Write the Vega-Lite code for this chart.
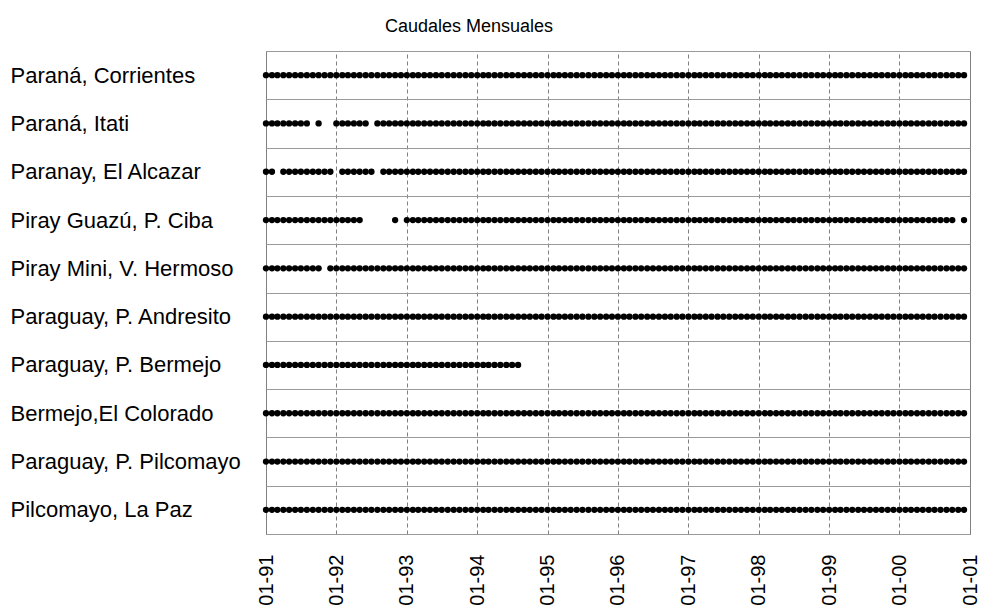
{
"$schema":"https://vega.github.io/schema/vega-lite/v6.json",
"width":704,"height":483,
"autosize":{"type":"none"},
"padding":{"left":266,"top":51,"right":12,"bottom":81},
"background":"white",
"title":{"text":"Caudales Mensuales","anchor":"middle","dx":-149,"offset":4,"font":"Liberation Sans","fontSize":18,"fontWeight":"normal","color":"black"},
"datasets":{
"corrientes":[{"fecha":"1991-01"},{"fecha":"1991-02"},{"fecha":"1991-03"},{"fecha":"1991-04"},{"fecha":"1991-05"},{"fecha":"1991-06"},{"fecha":"1991-07"},{"fecha":"1991-08"},{"fecha":"1991-09"},{"fecha":"1991-10"},{"fecha":"1991-11"},{"fecha":"1991-12"},{"fecha":"1992-01"},{"fecha":"1992-02"},{"fecha":"1992-03"},{"fecha":"1992-04"},{"fecha":"1992-05"},{"fecha":"1992-06"},{"fecha":"1992-07"},{"fecha":"1992-08"},{"fecha":"1992-09"},{"fecha":"1992-10"},{"fecha":"1992-11"},{"fecha":"1992-12"},{"fecha":"1993-01"},{"fecha":"1993-02"},{"fecha":"1993-03"},{"fecha":"1993-04"},{"fecha":"1993-05"},{"fecha":"1993-06"},{"fecha":"1993-07"},{"fecha":"1993-08"},{"fecha":"1993-09"},{"fecha":"1993-10"},{"fecha":"1993-11"},{"fecha":"1993-12"},{"fecha":"1994-01"},{"fecha":"1994-02"},{"fecha":"1994-03"},{"fecha":"1994-04"},{"fecha":"1994-05"},{"fecha":"1994-06"},{"fecha":"1994-07"},{"fecha":"1994-08"},{"fecha":"1994-09"},{"fecha":"1994-10"},{"fecha":"1994-11"},{"fecha":"1994-12"},{"fecha":"1995-01"},{"fecha":"1995-02"},{"fecha":"1995-03"},{"fecha":"1995-04"},{"fecha":"1995-05"},{"fecha":"1995-06"},{"fecha":"1995-07"},{"fecha":"1995-08"},{"fecha":"1995-09"},{"fecha":"1995-10"},{"fecha":"1995-11"},{"fecha":"1995-12"},{"fecha":"1996-01"},{"fecha":"1996-02"},{"fecha":"1996-03"},{"fecha":"1996-04"},{"fecha":"1996-05"},{"fecha":"1996-06"},{"fecha":"1996-07"},{"fecha":"1996-08"},{"fecha":"1996-09"},{"fecha":"1996-10"},{"fecha":"1996-11"},{"fecha":"1996-12"},{"fecha":"1997-01"},{"fecha":"1997-02"},{"fecha":"1997-03"},{"fecha":"1997-04"},{"fecha":"1997-05"},{"fecha":"1997-06"},{"fecha":"1997-07"},{"fecha":"1997-08"},{"fecha":"1997-09"},{"fecha":"1997-10"},{"fecha":"1997-11"},{"fecha":"1997-12"},{"fecha":"1998-01"},{"fecha":"1998-02"},{"fecha":"1998-03"},{"fecha":"1998-04"},{"fecha":"1998-05"},{"fecha":"1998-06"},{"fecha":"1998-07"},{"fecha":"1998-08"},{"fecha":"1998-09"},{"fecha":"1998-10"},{"fecha":"1998-11"},{"fecha":"1998-12"},{"fecha":"1999-01"},{"fecha":"1999-02"},{"fecha":"1999-03"},{"fecha":"1999-04"},{"fecha":"1999-05"},{"fecha":"1999-06"},{"fecha":"1999-07"},{"fecha":"1999-08"},{"fecha":"1999-09"},{"fecha":"1999-10"},{"fecha":"1999-11"},{"fecha":"1999-12"},{"fecha":"2000-01"},{"fecha":"2000-02"},{"fecha":"2000-03"},{"fecha":"2000-04"},{"fecha":"2000-05"},{"fecha":"2000-06"},{"fecha":"2000-07"},{"fecha":"2000-08"},{"fecha":"2000-09"},{"fecha":"2000-10"},{"fecha":"2000-11"},{"fecha":"2000-12"}],
"itati":[{"fecha":"1991-01"},{"fecha":"1991-02"},{"fecha":"1991-03"},{"fecha":"1991-04"},{"fecha":"1991-05"},{"fecha":"1991-06"},{"fecha":"1991-07"},{"fecha":"1991-08"},{"fecha":"1991-10"},{"fecha":"1992-01"},{"fecha":"1992-02"},{"fecha":"1992-03"},{"fecha":"1992-04"},{"fecha":"1992-05"},{"fecha":"1992-06"},{"fecha":"1992-08"},{"fecha":"1992-09"},{"fecha":"1992-10"},{"fecha":"1992-11"},{"fecha":"1992-12"},{"fecha":"1993-01"},{"fecha":"1993-02"},{"fecha":"1993-03"},{"fecha":"1993-04"},{"fecha":"1993-05"},{"fecha":"1993-06"},{"fecha":"1993-07"},{"fecha":"1993-08"},{"fecha":"1993-09"},{"fecha":"1993-10"},{"fecha":"1993-11"},{"fecha":"1993-12"},{"fecha":"1994-01"},{"fecha":"1994-02"},{"fecha":"1994-03"},{"fecha":"1994-04"},{"fecha":"1994-05"},{"fecha":"1994-06"},{"fecha":"1994-07"},{"fecha":"1994-08"},{"fecha":"1994-09"},{"fecha":"1994-10"},{"fecha":"1994-11"},{"fecha":"1994-12"},{"fecha":"1995-01"},{"fecha":"1995-02"},{"fecha":"1995-03"},{"fecha":"1995-04"},{"fecha":"1995-05"},{"fecha":"1995-06"},{"fecha":"1995-07"},{"fecha":"1995-08"},{"fecha":"1995-09"},{"fecha":"1995-10"},{"fecha":"1995-11"},{"fecha":"1995-12"},{"fecha":"1996-01"},{"fecha":"1996-02"},{"fecha":"1996-03"},{"fecha":"1996-04"},{"fecha":"1996-05"},{"fecha":"1996-06"},{"fecha":"1996-07"},{"fecha":"1996-08"},{"fecha":"1996-09"},{"fecha":"1996-10"},{"fecha":"1996-11"},{"fecha":"1996-12"},{"fecha":"1997-01"},{"fecha":"1997-02"},{"fecha":"1997-03"},{"fecha":"1997-04"},{"fecha":"1997-05"},{"fecha":"1997-06"},{"fecha":"1997-07"},{"fecha":"1997-08"},{"fecha":"1997-09"},{"fecha":"1997-10"},{"fecha":"1997-11"},{"fecha":"1997-12"},{"fecha":"1998-01"},{"fecha":"1998-02"},{"fecha":"1998-03"},{"fecha":"1998-04"},{"fecha":"1998-05"},{"fecha":"1998-06"},{"fecha":"1998-07"},{"fecha":"1998-08"},{"fecha":"1998-09"},{"fecha":"1998-10"},{"fecha":"1998-11"},{"fecha":"1998-12"},{"fecha":"1999-01"},{"fecha":"1999-02"},{"fecha":"1999-03"},{"fecha":"1999-04"},{"fecha":"1999-05"},{"fecha":"1999-06"},{"fecha":"1999-07"},{"fecha":"1999-08"},{"fecha":"1999-09"},{"fecha":"1999-10"},{"fecha":"1999-11"},{"fecha":"1999-12"},{"fecha":"2000-01"},{"fecha":"2000-02"},{"fecha":"2000-03"},{"fecha":"2000-04"},{"fecha":"2000-05"},{"fecha":"2000-06"},{"fecha":"2000-07"},{"fecha":"2000-08"},{"fecha":"2000-09"},{"fecha":"2000-10"},{"fecha":"2000-11"},{"fecha":"2000-12"}],
"alcazar":[{"fecha":"1991-01"},{"fecha":"1991-02"},{"fecha":"1991-04"},{"fecha":"1991-05"},{"fecha":"1991-06"},{"fecha":"1991-07"},{"fecha":"1991-08"},{"fecha":"1991-09"},{"fecha":"1991-10"},{"fecha":"1991-11"},{"fecha":"1991-12"},{"fecha":"1992-02"},{"fecha":"1992-03"},{"fecha":"1992-04"},{"fecha":"1992-05"},{"fecha":"1992-06"},{"fecha":"1992-07"},{"fecha":"1992-09"},{"fecha":"1992-10"},{"fecha":"1992-11"},{"fecha":"1992-12"},{"fecha":"1993-01"},{"fecha":"1993-02"},{"fecha":"1993-03"},{"fecha":"1993-04"},{"fecha":"1993-05"},{"fecha":"1993-06"},{"fecha":"1993-07"},{"fecha":"1993-08"},{"fecha":"1993-09"},{"fecha":"1993-10"},{"fecha":"1993-11"},{"fecha":"1993-12"},{"fecha":"1994-01"},{"fecha":"1994-02"},{"fecha":"1994-03"},{"fecha":"1994-04"},{"fecha":"1994-05"},{"fecha":"1994-06"},{"fecha":"1994-07"},{"fecha":"1994-08"},{"fecha":"1994-09"},{"fecha":"1994-10"},{"fecha":"1994-11"},{"fecha":"1994-12"},{"fecha":"1995-01"},{"fecha":"1995-02"},{"fecha":"1995-03"},{"fecha":"1995-04"},{"fecha":"1995-05"},{"fecha":"1995-06"},{"fecha":"1995-07"},{"fecha":"1995-08"},{"fecha":"1995-09"},{"fecha":"1995-10"},{"fecha":"1995-11"},{"fecha":"1995-12"},{"fecha":"1996-01"},{"fecha":"1996-02"},{"fecha":"1996-03"},{"fecha":"1996-04"},{"fecha":"1996-05"},{"fecha":"1996-06"},{"fecha":"1996-07"},{"fecha":"1996-08"},{"fecha":"1996-09"},{"fecha":"1996-10"},{"fecha":"1996-11"},{"fecha":"1996-12"},{"fecha":"1997-01"},{"fecha":"1997-02"},{"fecha":"1997-03"},{"fecha":"1997-04"},{"fecha":"1997-05"},{"fecha":"1997-06"},{"fecha":"1997-07"},{"fecha":"1997-08"},{"fecha":"1997-09"},{"fecha":"1997-10"},{"fecha":"1997-11"},{"fecha":"1997-12"},{"fecha":"1998-01"},{"fecha":"1998-02"},{"fecha":"1998-03"},{"fecha":"1998-04"},{"fecha":"1998-05"},{"fecha":"1998-06"},{"fecha":"1998-07"},{"fecha":"1998-08"},{"fecha":"1998-09"},{"fecha":"1998-10"},{"fecha":"1998-11"},{"fecha":"1998-12"},{"fecha":"1999-01"},{"fecha":"1999-02"},{"fecha":"1999-03"},{"fecha":"1999-04"},{"fecha":"1999-05"},{"fecha":"1999-06"},{"fecha":"1999-07"},{"fecha":"1999-08"},{"fecha":"1999-09"},{"fecha":"1999-10"},{"fecha":"1999-11"},{"fecha":"1999-12"},{"fecha":"2000-01"},{"fecha":"2000-02"},{"fecha":"2000-03"},{"fecha":"2000-04"},{"fecha":"2000-05"},{"fecha":"2000-06"},{"fecha":"2000-07"},{"fecha":"2000-08"},{"fecha":"2000-09"},{"fecha":"2000-10"},{"fecha":"2000-11"},{"fecha":"2000-12"}],
"ciba":[{"fecha":"1991-01"},{"fecha":"1991-02"},{"fecha":"1991-03"},{"fecha":"1991-04"},{"fecha":"1991-05"},{"fecha":"1991-06"},{"fecha":"1991-07"},{"fecha":"1991-08"},{"fecha":"1991-09"},{"fecha":"1991-10"},{"fecha":"1991-11"},{"fecha":"1991-12"},{"fecha":"1992-01"},{"fecha":"1992-02"},{"fecha":"1992-03"},{"fecha":"1992-04"},{"fecha":"1992-05"},{"fecha":"1992-11"},{"fecha":"1993-01"},{"fecha":"1993-02"},{"fecha":"1993-03"},{"fecha":"1993-04"},{"fecha":"1993-05"},{"fecha":"1993-06"},{"fecha":"1993-07"},{"fecha":"1993-08"},{"fecha":"1993-09"},{"fecha":"1993-10"},{"fecha":"1993-11"},{"fecha":"1993-12"},{"fecha":"1994-01"},{"fecha":"1994-02"},{"fecha":"1994-03"},{"fecha":"1994-04"},{"fecha":"1994-05"},{"fecha":"1994-06"},{"fecha":"1994-07"},{"fecha":"1994-08"},{"fecha":"1994-09"},{"fecha":"1994-10"},{"fecha":"1994-11"},{"fecha":"1994-12"},{"fecha":"1995-01"},{"fecha":"1995-02"},{"fecha":"1995-03"},{"fecha":"1995-04"},{"fecha":"1995-05"},{"fecha":"1995-06"},{"fecha":"1995-07"},{"fecha":"1995-08"},{"fecha":"1995-09"},{"fecha":"1995-10"},{"fecha":"1995-11"},{"fecha":"1995-12"},{"fecha":"1996-01"},{"fecha":"1996-02"},{"fecha":"1996-03"},{"fecha":"1996-04"},{"fecha":"1996-05"},{"fecha":"1996-06"},{"fecha":"1996-07"},{"fecha":"1996-08"},{"fecha":"1996-09"},{"fecha":"1996-10"},{"fecha":"1996-11"},{"fecha":"1996-12"},{"fecha":"1997-01"},{"fecha":"1997-02"},{"fecha":"1997-03"},{"fecha":"1997-04"},{"fecha":"1997-05"},{"fecha":"1997-06"},{"fecha":"1997-07"},{"fecha":"1997-08"},{"fecha":"1997-09"},{"fecha":"1997-10"},{"fecha":"1997-11"},{"fecha":"1997-12"},{"fecha":"1998-01"},{"fecha":"1998-02"},{"fecha":"1998-03"},{"fecha":"1998-04"},{"fecha":"1998-05"},{"fecha":"1998-06"},{"fecha":"1998-07"},{"fecha":"1998-08"},{"fecha":"1998-09"},{"fecha":"1998-10"},{"fecha":"1998-11"},{"fecha":"1998-12"},{"fecha":"1999-01"},{"fecha":"1999-02"},{"fecha":"1999-03"},{"fecha":"1999-04"},{"fecha":"1999-05"},{"fecha":"1999-06"},{"fecha":"1999-07"},{"fecha":"1999-08"},{"fecha":"1999-09"},{"fecha":"1999-10"},{"fecha":"1999-11"},{"fecha":"1999-12"},{"fecha":"2000-01"},{"fecha":"2000-02"},{"fecha":"2000-03"},{"fecha":"2000-04"},{"fecha":"2000-05"},{"fecha":"2000-06"},{"fecha":"2000-07"},{"fecha":"2000-08"},{"fecha":"2000-09"},{"fecha":"2000-10"},{"fecha":"2000-12"}],
"hermoso":[{"fecha":"1991-01"},{"fecha":"1991-02"},{"fecha":"1991-03"},{"fecha":"1991-04"},{"fecha":"1991-05"},{"fecha":"1991-06"},{"fecha":"1991-07"},{"fecha":"1991-08"},{"fecha":"1991-09"},{"fecha":"1991-10"},{"fecha":"1991-12"},{"fecha":"1992-01"},{"fecha":"1992-02"},{"fecha":"1992-03"},{"fecha":"1992-04"},{"fecha":"1992-05"},{"fecha":"1992-06"},{"fecha":"1992-07"},{"fecha":"1992-08"},{"fecha":"1992-09"},{"fecha":"1992-10"},{"fecha":"1992-11"},{"fecha":"1992-12"},{"fecha":"1993-01"},{"fecha":"1993-02"},{"fecha":"1993-03"},{"fecha":"1993-04"},{"fecha":"1993-05"},{"fecha":"1993-06"},{"fecha":"1993-07"},{"fecha":"1993-08"},{"fecha":"1993-09"},{"fecha":"1993-10"},{"fecha":"1993-11"},{"fecha":"1993-12"},{"fecha":"1994-01"},{"fecha":"1994-02"},{"fecha":"1994-03"},{"fecha":"1994-04"},{"fecha":"1994-05"},{"fecha":"1994-06"},{"fecha":"1994-07"},{"fecha":"1994-08"},{"fecha":"1994-09"},{"fecha":"1994-10"},{"fecha":"1994-11"},{"fecha":"1994-12"},{"fecha":"1995-01"},{"fecha":"1995-02"},{"fecha":"1995-03"},{"fecha":"1995-04"},{"fecha":"1995-05"},{"fecha":"1995-06"},{"fecha":"1995-07"},{"fecha":"1995-08"},{"fecha":"1995-09"},{"fecha":"1995-10"},{"fecha":"1995-11"},{"fecha":"1995-12"},{"fecha":"1996-01"},{"fecha":"1996-02"},{"fecha":"1996-03"},{"fecha":"1996-04"},{"fecha":"1996-05"},{"fecha":"1996-06"},{"fecha":"1996-07"},{"fecha":"1996-08"},{"fecha":"1996-09"},{"fecha":"1996-10"},{"fecha":"1996-11"},{"fecha":"1996-12"},{"fecha":"1997-01"},{"fecha":"1997-02"},{"fecha":"1997-03"},{"fecha":"1997-04"},{"fecha":"1997-05"},{"fecha":"1997-06"},{"fecha":"1997-07"},{"fecha":"1997-08"},{"fecha":"1997-09"},{"fecha":"1997-10"},{"fecha":"1997-11"},{"fecha":"1997-12"},{"fecha":"1998-01"},{"fecha":"1998-02"},{"fecha":"1998-03"},{"fecha":"1998-04"},{"fecha":"1998-05"},{"fecha":"1998-06"},{"fecha":"1998-07"},{"fecha":"1998-08"},{"fecha":"1998-09"},{"fecha":"1998-10"},{"fecha":"1998-11"},{"fecha":"1998-12"},{"fecha":"1999-01"},{"fecha":"1999-02"},{"fecha":"1999-03"},{"fecha":"1999-04"},{"fecha":"1999-05"},{"fecha":"1999-06"},{"fecha":"1999-07"},{"fecha":"1999-08"},{"fecha":"1999-09"},{"fecha":"1999-10"},{"fecha":"1999-11"},{"fecha":"1999-12"},{"fecha":"2000-01"},{"fecha":"2000-02"},{"fecha":"2000-03"},{"fecha":"2000-04"},{"fecha":"2000-05"},{"fecha":"2000-06"},{"fecha":"2000-07"},{"fecha":"2000-08"},{"fecha":"2000-09"},{"fecha":"2000-10"},{"fecha":"2000-11"},{"fecha":"2000-12"}],
"andresito":[{"fecha":"1991-01"},{"fecha":"1991-02"},{"fecha":"1991-03"},{"fecha":"1991-04"},{"fecha":"1991-05"},{"fecha":"1991-06"},{"fecha":"1991-07"},{"fecha":"1991-08"},{"fecha":"1991-09"},{"fecha":"1991-10"},{"fecha":"1991-11"},{"fecha":"1991-12"},{"fecha":"1992-01"},{"fecha":"1992-02"},{"fecha":"1992-03"},{"fecha":"1992-04"},{"fecha":"1992-05"},{"fecha":"1992-06"},{"fecha":"1992-07"},{"fecha":"1992-08"},{"fecha":"1992-09"},{"fecha":"1992-10"},{"fecha":"1992-11"},{"fecha":"1992-12"},{"fecha":"1993-01"},{"fecha":"1993-02"},{"fecha":"1993-03"},{"fecha":"1993-04"},{"fecha":"1993-05"},{"fecha":"1993-06"},{"fecha":"1993-07"},{"fecha":"1993-08"},{"fecha":"1993-09"},{"fecha":"1993-10"},{"fecha":"1993-11"},{"fecha":"1993-12"},{"fecha":"1994-01"},{"fecha":"1994-02"},{"fecha":"1994-03"},{"fecha":"1994-04"},{"fecha":"1994-05"},{"fecha":"1994-06"},{"fecha":"1994-07"},{"fecha":"1994-08"},{"fecha":"1994-09"},{"fecha":"1994-10"},{"fecha":"1994-11"},{"fecha":"1994-12"},{"fecha":"1995-01"},{"fecha":"1995-02"},{"fecha":"1995-03"},{"fecha":"1995-04"},{"fecha":"1995-05"},{"fecha":"1995-06"},{"fecha":"1995-07"},{"fecha":"1995-08"},{"fecha":"1995-09"},{"fecha":"1995-10"},{"fecha":"1995-11"},{"fecha":"1995-12"},{"fecha":"1996-01"},{"fecha":"1996-02"},{"fecha":"1996-03"},{"fecha":"1996-04"},{"fecha":"1996-05"},{"fecha":"1996-06"},{"fecha":"1996-07"},{"fecha":"1996-08"},{"fecha":"1996-09"},{"fecha":"1996-10"},{"fecha":"1996-11"},{"fecha":"1996-12"},{"fecha":"1997-01"},{"fecha":"1997-02"},{"fecha":"1997-03"},{"fecha":"1997-04"},{"fecha":"1997-05"},{"fecha":"1997-06"},{"fecha":"1997-07"},{"fecha":"1997-08"},{"fecha":"1997-09"},{"fecha":"1997-10"},{"fecha":"1997-11"},{"fecha":"1997-12"},{"fecha":"1998-01"},{"fecha":"1998-02"},{"fecha":"1998-03"},{"fecha":"1998-04"},{"fecha":"1998-05"},{"fecha":"1998-06"},{"fecha":"1998-07"},{"fecha":"1998-08"},{"fecha":"1998-09"},{"fecha":"1998-10"},{"fecha":"1998-11"},{"fecha":"1998-12"},{"fecha":"1999-01"},{"fecha":"1999-02"},{"fecha":"1999-03"},{"fecha":"1999-04"},{"fecha":"1999-05"},{"fecha":"1999-06"},{"fecha":"1999-07"},{"fecha":"1999-08"},{"fecha":"1999-09"},{"fecha":"1999-10"},{"fecha":"1999-11"},{"fecha":"1999-12"},{"fecha":"2000-01"},{"fecha":"2000-02"},{"fecha":"2000-03"},{"fecha":"2000-04"},{"fecha":"2000-05"},{"fecha":"2000-06"},{"fecha":"2000-07"},{"fecha":"2000-08"},{"fecha":"2000-09"},{"fecha":"2000-10"},{"fecha":"2000-11"},{"fecha":"2000-12"}],
"pbermejo":[{"fecha":"1991-01"},{"fecha":"1991-02"},{"fecha":"1991-03"},{"fecha":"1991-04"},{"fecha":"1991-05"},{"fecha":"1991-06"},{"fecha":"1991-07"},{"fecha":"1991-08"},{"fecha":"1991-09"},{"fecha":"1991-10"},{"fecha":"1991-11"},{"fecha":"1991-12"},{"fecha":"1992-01"},{"fecha":"1992-02"},{"fecha":"1992-03"},{"fecha":"1992-04"},{"fecha":"1992-05"},{"fecha":"1992-06"},{"fecha":"1992-07"},{"fecha":"1992-08"},{"fecha":"1992-09"},{"fecha":"1992-10"},{"fecha":"1992-11"},{"fecha":"1992-12"},{"fecha":"1993-01"},{"fecha":"1993-02"},{"fecha":"1993-03"},{"fecha":"1993-04"},{"fecha":"1993-05"},{"fecha":"1993-06"},{"fecha":"1993-07"},{"fecha":"1993-08"},{"fecha":"1993-09"},{"fecha":"1993-10"},{"fecha":"1993-11"},{"fecha":"1993-12"},{"fecha":"1994-01"},{"fecha":"1994-02"},{"fecha":"1994-03"},{"fecha":"1994-04"},{"fecha":"1994-05"},{"fecha":"1994-06"},{"fecha":"1994-07"},{"fecha":"1994-08"}],
"colorado":[{"fecha":"1991-01"},{"fecha":"1991-02"},{"fecha":"1991-03"},{"fecha":"1991-04"},{"fecha":"1991-05"},{"fecha":"1991-06"},{"fecha":"1991-07"},{"fecha":"1991-08"},{"fecha":"1991-09"},{"fecha":"1991-10"},{"fecha":"1991-11"},{"fecha":"1991-12"},{"fecha":"1992-01"},{"fecha":"1992-02"},{"fecha":"1992-03"},{"fecha":"1992-04"},{"fecha":"1992-05"},{"fecha":"1992-06"},{"fecha":"1992-07"},{"fecha":"1992-08"},{"fecha":"1992-09"},{"fecha":"1992-10"},{"fecha":"1992-11"},{"fecha":"1992-12"},{"fecha":"1993-01"},{"fecha":"1993-02"},{"fecha":"1993-03"},{"fecha":"1993-04"},{"fecha":"1993-05"},{"fecha":"1993-06"},{"fecha":"1993-07"},{"fecha":"1993-08"},{"fecha":"1993-09"},{"fecha":"1993-10"},{"fecha":"1993-11"},{"fecha":"1993-12"},{"fecha":"1994-01"},{"fecha":"1994-02"},{"fecha":"1994-03"},{"fecha":"1994-04"},{"fecha":"1994-05"},{"fecha":"1994-06"},{"fecha":"1994-07"},{"fecha":"1994-08"},{"fecha":"1994-09"},{"fecha":"1994-10"},{"fecha":"1994-11"},{"fecha":"1994-12"},{"fecha":"1995-01"},{"fecha":"1995-02"},{"fecha":"1995-03"},{"fecha":"1995-04"},{"fecha":"1995-05"},{"fecha":"1995-06"},{"fecha":"1995-07"},{"fecha":"1995-08"},{"fecha":"1995-09"},{"fecha":"1995-10"},{"fecha":"1995-11"},{"fecha":"1995-12"},{"fecha":"1996-01"},{"fecha":"1996-02"},{"fecha":"1996-03"},{"fecha":"1996-04"},{"fecha":"1996-05"},{"fecha":"1996-06"},{"fecha":"1996-07"},{"fecha":"1996-08"},{"fecha":"1996-09"},{"fecha":"1996-10"},{"fecha":"1996-11"},{"fecha":"1996-12"},{"fecha":"1997-01"},{"fecha":"1997-02"},{"fecha":"1997-03"},{"fecha":"1997-04"},{"fecha":"1997-05"},{"fecha":"1997-06"},{"fecha":"1997-07"},{"fecha":"1997-08"},{"fecha":"1997-09"},{"fecha":"1997-10"},{"fecha":"1997-11"},{"fecha":"1997-12"},{"fecha":"1998-01"},{"fecha":"1998-02"},{"fecha":"1998-03"},{"fecha":"1998-04"},{"fecha":"1998-05"},{"fecha":"1998-06"},{"fecha":"1998-07"},{"fecha":"1998-08"},{"fecha":"1998-09"},{"fecha":"1998-10"},{"fecha":"1998-11"},{"fecha":"1998-12"},{"fecha":"1999-01"},{"fecha":"1999-02"},{"fecha":"1999-03"},{"fecha":"1999-04"},{"fecha":"1999-05"},{"fecha":"1999-06"},{"fecha":"1999-07"},{"fecha":"1999-08"},{"fecha":"1999-09"},{"fecha":"1999-10"},{"fecha":"1999-11"},{"fecha":"1999-12"},{"fecha":"2000-01"},{"fecha":"2000-02"},{"fecha":"2000-03"},{"fecha":"2000-04"},{"fecha":"2000-05"},{"fecha":"2000-06"},{"fecha":"2000-07"},{"fecha":"2000-08"},{"fecha":"2000-09"},{"fecha":"2000-10"},{"fecha":"2000-11"},{"fecha":"2000-12"}],
"pilcomayo":[{"fecha":"1991-01"},{"fecha":"1991-02"},{"fecha":"1991-03"},{"fecha":"1991-04"},{"fecha":"1991-05"},{"fecha":"1991-06"},{"fecha":"1991-07"},{"fecha":"1991-08"},{"fecha":"1991-09"},{"fecha":"1991-10"},{"fecha":"1991-11"},{"fecha":"1991-12"},{"fecha":"1992-01"},{"fecha":"1992-02"},{"fecha":"1992-03"},{"fecha":"1992-04"},{"fecha":"1992-05"},{"fecha":"1992-06"},{"fecha":"1992-07"},{"fecha":"1992-08"},{"fecha":"1992-09"},{"fecha":"1992-10"},{"fecha":"1992-11"},{"fecha":"1992-12"},{"fecha":"1993-01"},{"fecha":"1993-02"},{"fecha":"1993-03"},{"fecha":"1993-04"},{"fecha":"1993-05"},{"fecha":"1993-06"},{"fecha":"1993-07"},{"fecha":"1993-08"},{"fecha":"1993-09"},{"fecha":"1993-10"},{"fecha":"1993-11"},{"fecha":"1993-12"},{"fecha":"1994-01"},{"fecha":"1994-02"},{"fecha":"1994-03"},{"fecha":"1994-04"},{"fecha":"1994-05"},{"fecha":"1994-06"},{"fecha":"1994-07"},{"fecha":"1994-08"},{"fecha":"1994-09"},{"fecha":"1994-10"},{"fecha":"1994-11"},{"fecha":"1994-12"},{"fecha":"1995-01"},{"fecha":"1995-02"},{"fecha":"1995-03"},{"fecha":"1995-04"},{"fecha":"1995-05"},{"fecha":"1995-06"},{"fecha":"1995-07"},{"fecha":"1995-08"},{"fecha":"1995-09"},{"fecha":"1995-10"},{"fecha":"1995-11"},{"fecha":"1995-12"},{"fecha":"1996-01"},{"fecha":"1996-02"},{"fecha":"1996-03"},{"fecha":"1996-04"},{"fecha":"1996-05"},{"fecha":"1996-06"},{"fecha":"1996-07"},{"fecha":"1996-08"},{"fecha":"1996-09"},{"fecha":"1996-10"},{"fecha":"1996-11"},{"fecha":"1996-12"},{"fecha":"1997-01"},{"fecha":"1997-02"},{"fecha":"1997-03"},{"fecha":"1997-04"},{"fecha":"1997-05"},{"fecha":"1997-06"},{"fecha":"1997-07"},{"fecha":"1997-08"},{"fecha":"1997-09"},{"fecha":"1997-10"},{"fecha":"1997-11"},{"fecha":"1997-12"},{"fecha":"1998-01"},{"fecha":"1998-02"},{"fecha":"1998-03"},{"fecha":"1998-04"},{"fecha":"1998-05"},{"fecha":"1998-06"},{"fecha":"1998-07"},{"fecha":"1998-08"},{"fecha":"1998-09"},{"fecha":"1998-10"},{"fecha":"1998-11"},{"fecha":"1998-12"},{"fecha":"1999-01"},{"fecha":"1999-02"},{"fecha":"1999-03"},{"fecha":"1999-04"},{"fecha":"1999-05"},{"fecha":"1999-06"},{"fecha":"1999-07"},{"fecha":"1999-08"},{"fecha":"1999-09"},{"fecha":"1999-10"},{"fecha":"1999-11"},{"fecha":"1999-12"},{"fecha":"2000-01"},{"fecha":"2000-02"},{"fecha":"2000-03"},{"fecha":"2000-04"},{"fecha":"2000-05"},{"fecha":"2000-06"},{"fecha":"2000-07"},{"fecha":"2000-08"},{"fecha":"2000-09"},{"fecha":"2000-10"},{"fecha":"2000-11"},{"fecha":"2000-12"}],
"lapaz":[{"fecha":"1991-01"},{"fecha":"1991-02"},{"fecha":"1991-03"},{"fecha":"1991-04"},{"fecha":"1991-05"},{"fecha":"1991-06"},{"fecha":"1991-07"},{"fecha":"1991-08"},{"fecha":"1991-09"},{"fecha":"1991-10"},{"fecha":"1991-11"},{"fecha":"1991-12"},{"fecha":"1992-01"},{"fecha":"1992-02"},{"fecha":"1992-03"},{"fecha":"1992-04"},{"fecha":"1992-05"},{"fecha":"1992-06"},{"fecha":"1992-07"},{"fecha":"1992-08"},{"fecha":"1992-09"},{"fecha":"1992-10"},{"fecha":"1992-11"},{"fecha":"1992-12"},{"fecha":"1993-01"},{"fecha":"1993-02"},{"fecha":"1993-03"},{"fecha":"1993-04"},{"fecha":"1993-05"},{"fecha":"1993-06"},{"fecha":"1993-07"},{"fecha":"1993-08"},{"fecha":"1993-09"},{"fecha":"1993-10"},{"fecha":"1993-11"},{"fecha":"1993-12"},{"fecha":"1994-01"},{"fecha":"1994-02"},{"fecha":"1994-03"},{"fecha":"1994-04"},{"fecha":"1994-05"},{"fecha":"1994-06"},{"fecha":"1994-07"},{"fecha":"1994-08"},{"fecha":"1994-09"},{"fecha":"1994-10"},{"fecha":"1994-11"},{"fecha":"1994-12"},{"fecha":"1995-01"},{"fecha":"1995-02"},{"fecha":"1995-03"},{"fecha":"1995-04"},{"fecha":"1995-05"},{"fecha":"1995-06"},{"fecha":"1995-07"},{"fecha":"1995-08"},{"fecha":"1995-09"},{"fecha":"1995-10"},{"fecha":"1995-11"},{"fecha":"1995-12"},{"fecha":"1996-01"},{"fecha":"1996-02"},{"fecha":"1996-03"},{"fecha":"1996-04"},{"fecha":"1996-05"},{"fecha":"1996-06"},{"fecha":"1996-07"},{"fecha":"1996-08"},{"fecha":"1996-09"},{"fecha":"1996-10"},{"fecha":"1996-11"},{"fecha":"1996-12"},{"fecha":"1997-01"},{"fecha":"1997-02"},{"fecha":"1997-03"},{"fecha":"1997-04"},{"fecha":"1997-05"},{"fecha":"1997-06"},{"fecha":"1997-07"},{"fecha":"1997-08"},{"fecha":"1997-09"},{"fecha":"1997-10"},{"fecha":"1997-11"},{"fecha":"1997-12"},{"fecha":"1998-01"},{"fecha":"1998-02"},{"fecha":"1998-03"},{"fecha":"1998-04"},{"fecha":"1998-05"},{"fecha":"1998-06"},{"fecha":"1998-07"},{"fecha":"1998-08"},{"fecha":"1998-09"},{"fecha":"1998-10"},{"fecha":"1998-11"},{"fecha":"1998-12"},{"fecha":"1999-01"},{"fecha":"1999-02"},{"fecha":"1999-03"},{"fecha":"1999-04"},{"fecha":"1999-05"},{"fecha":"1999-06"},{"fecha":"1999-07"},{"fecha":"1999-08"},{"fecha":"1999-09"},{"fecha":"1999-10"},{"fecha":"1999-11"},{"fecha":"1999-12"},{"fecha":"2000-01"},{"fecha":"2000-02"},{"fecha":"2000-03"},{"fecha":"2000-04"},{"fecha":"2000-05"},{"fecha":"2000-06"},{"fecha":"2000-07"},{"fecha":"2000-08"},{"fecha":"2000-09"},{"fecha":"2000-10"},{"fecha":"2000-11"},{"fecha":"2000-12"}]
},
"encoding":{
"x":{"field":"fecha","type":"temporal",
"scale":{"type":"utc","domain":[{"year":1991,"month":1,"date":1,"utc":true},{"year":2001,"month":1,"date":1,"utc":true}],"nice":false},
"axis":{"title":null,"values":[{"year":1991,"month":1,"date":1,"utc":true},{"year":1992,"month":1,"date":1,"utc":true},{"year":1993,"month":1,"date":1,"utc":true},{"year":1994,"month":1,"date":1,"utc":true},{"year":1995,"month":1,"date":1,"utc":true},{"year":1996,"month":1,"date":1,"utc":true},{"year":1997,"month":1,"date":1,"utc":true},{"year":1998,"month":1,"date":1,"utc":true},{"year":1999,"month":1,"date":1,"utc":true},{"year":2000,"month":1,"date":1,"utc":true},{"year":2001,"month":1,"date":1,"utc":true}],
"labelExpr":"utcFormat(datum.value, '%m-%y')","labelAngle":270,"labelAlign":"right","labelBaseline":"middle","labelFont":"Liberation Sans","labelFontSize":20,"labelColor":"black","labelPadding":20,"ticks":false,"tickSize":0,"domain":false,"grid":true,"gridColor":"#808080","gridDash":[4,3],"gridWidth":1,"labelOverlap":false,"labelFlush":false}}
},
"layer":[
{"data":{"name":"corrientes"},"mark":{"type":"circle","color":"black","size":40,"opacity":1},
 "encoding":{"y":{"datum":"Paraná, Corrientes","type":"nominal",
  "scale":{"type":"band","domain":["Paraná, Corrientes","Paraná, Itati","Paranay, El Alcazar","Piray Guazú, P. Ciba","Piray Mini, V. Hermoso","Paraguay, P. Andresito","Paraguay, P. Bermejo","Bermejo,El Colorado","Paraguay, P. Pilcomayo","Pilcomayo, La Paz"],"paddingInner":0,"paddingOuter":0},
  "axis":{"title":null,"tickBand":"extent","ticks":false,"tickSize":0,"domain":false,"labelAlign":"left","labelBaseline":"middle","labelPadding":256,"labelLimit":0,"labelFont":"Liberation Sans","labelFontSize":22,"labelColor":"black","grid":true,"gridColor":"#999999","gridWidth":1}}}},
{"data":{"name":"itati"},"mark":{"type":"circle","color":"black","size":40,"opacity":1},"encoding":{"y":{"datum":"Paraná, Itati","type":"nominal"}}},
{"data":{"name":"alcazar"},"mark":{"type":"circle","color":"black","size":40,"opacity":1},"encoding":{"y":{"datum":"Paranay, El Alcazar","type":"nominal"}}},
{"data":{"name":"ciba"},"mark":{"type":"circle","color":"black","size":40,"opacity":1},"encoding":{"y":{"datum":"Piray Guazú, P. Ciba","type":"nominal"}}},
{"data":{"name":"hermoso"},"mark":{"type":"circle","color":"black","size":40,"opacity":1},"encoding":{"y":{"datum":"Piray Mini, V. Hermoso","type":"nominal"}}},
{"data":{"name":"andresito"},"mark":{"type":"circle","color":"black","size":40,"opacity":1},"encoding":{"y":{"datum":"Paraguay, P. Andresito","type":"nominal"}}},
{"data":{"name":"pbermejo"},"mark":{"type":"circle","color":"black","size":40,"opacity":1},"encoding":{"y":{"datum":"Paraguay, P. Bermejo","type":"nominal"}}},
{"data":{"name":"colorado"},"mark":{"type":"circle","color":"black","size":40,"opacity":1},"encoding":{"y":{"datum":"Bermejo,El Colorado","type":"nominal"}}},
{"data":{"name":"pilcomayo"},"mark":{"type":"circle","color":"black","size":40,"opacity":1},"encoding":{"y":{"datum":"Paraguay, P. Pilcomayo","type":"nominal"}}},
{"data":{"name":"lapaz"},"mark":{"type":"circle","color":"black","size":40,"opacity":1},"encoding":{"y":{"datum":"Pilcomayo, La Paz","type":"nominal"}}}
],
"config":{"view":{"stroke":"#808080","strokeWidth":1}}
}
